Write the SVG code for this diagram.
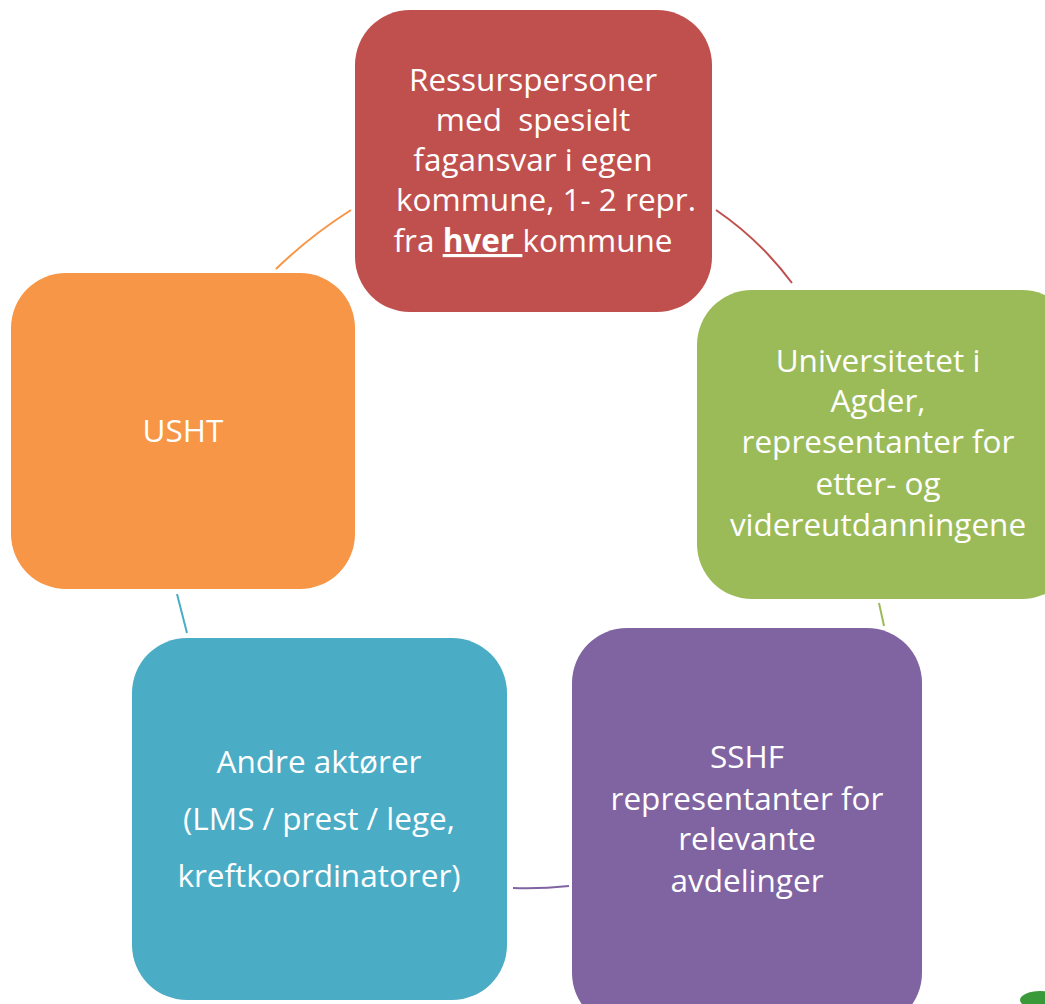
<svg xmlns="http://www.w3.org/2000/svg" width="1045" height="1004" viewBox="0 0 1045 1004">
<style>
.t{font-family:"Open Sans","Liberation Sans",sans-serif;font-size:31.5px;fill:#ffffff;text-anchor:middle;white-space:pre}
.c{fill:none;stroke-width:2}
</style>
<rect width="1045" height="1004" fill="#ffffff"/>
<g id="connectors">
<path class="c" stroke="#f79646" d="M276,269 Q310,236 351,210"/>
<path class="c" stroke="#c0504d" d="M716,210 Q760,240 792,283"/>
<path class="c" stroke="#9bbb59" d="M879,603 L884,626"/>
<path class="c" stroke="#4bacc6" d="M177,594 L187,633"/>
<path class="c" stroke="#8064a2" d="M513,888 Q540,889 569,886"/>
</g>
<g id="node-red">
<rect x="355" y="10" width="357" height="302" rx="55" fill="#c0504d"/>
<text class="t" x="533" y="91">Ressurspersoner</text>
<text class="t" x="533" y="131">med  spesielt</text>
<text class="t" x="533" y="171">fagansvar i egen</text>
<text class="t" x="546" y="211">kommune, 1- 2 repr.</text>
<text class="t" x="533" y="252">fra <tspan font-weight="bold" text-decoration="underline">hver </tspan>kommune</text>
</g>
<g id="node-orange">
<rect x="11" y="273" width="344" height="316" rx="55" fill="#f79646"/>
<text class="t" x="183" y="442">USHT</text>
</g>
<g id="node-green">
<rect x="697" y="290" width="380" height="309" rx="55" fill="#9bbb59"/>
<text class="t" x="878" y="372">Universitetet i</text>
<text class="t" x="878" y="412">Agder,</text>
<text class="t" x="878" y="453">representanter for</text>
<text class="t" x="878" y="495">etter- og</text>
<text class="t" x="878" y="536">videreutdanningene</text>
</g>
<g id="node-purple">
<rect x="572" y="628" width="350" height="400" rx="55" fill="#8064a2"/>
<text class="t" x="747" y="768">SSHF</text>
<text class="t" x="747" y="810">representanter for</text>
<text class="t" x="747" y="850">relevante</text>
<text class="t" x="747" y="892">avdelinger</text>
</g>
<g id="node-blue">
<rect x="132" y="638" width="375" height="362" rx="55" fill="#4bacc6"/>
<text class="t" x="319" y="773">Andre aktører</text>
<text class="t" x="319" y="830">(LMS / prest / lege,</text>
<text class="t" x="319" y="887">kreftkoordinatorer)</text>
</g>
<ellipse cx="1040" cy="1000" rx="20" ry="9" fill="#3a9a3a"/>
</svg>
